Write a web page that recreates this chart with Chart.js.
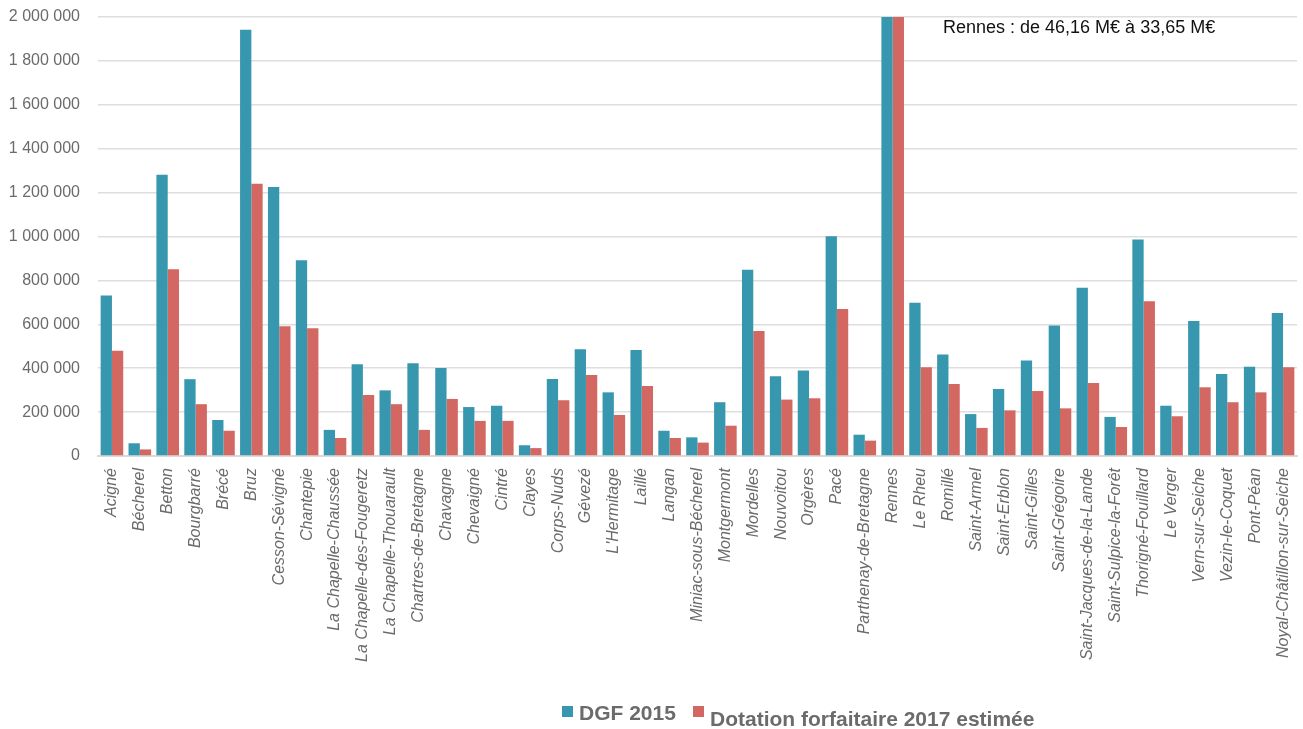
<!DOCTYPE html>
<html>
<head>
<meta charset="utf-8">
<script src="https://cdn.jsdelivr.net/npm/chart.js@4/dist/chart.umd.min.js"></script>
<style>
  html, body { margin: 0; padding: 0; background: #fff; }
  #wrap { width: 1303px; height: 729px; }
</style>
</head>
<body>
<div id="wrap"><canvas id="myChart"></canvas></div>
<script>
const communes = [
    'Acigné', 'Bécherel', 'Betton', 'Bourgbarré', 'Brécé', 'Bruz', 'Cesson-Sévigné',
    'Chantepie', 'La Chapelle-Chaussée', 'La Chapelle-des-Fougeretz', 'La Chapelle-Thouarault',
    'Chartres-de-Bretagne', 'Chavagne', 'Chevaigné', 'Cintré', 'Clayes', 'Corps-Nuds',
    'Gévezé', "L'Hermitage", 'Laillé', 'Langan', 'Miniac-sous-Bécherel', 'Montgermont',
    'Mordelles', 'Nouvoitou', 'Orgères', 'Pacé', 'Parthenay-de-Bretagne', 'Rennes',
    'Le Rheu', 'Romillé', 'Saint-Armel', 'Saint-Erblon', 'Saint-Gilles', 'Saint-Grégoire',
    'Saint-Jacques-de-la-Lande', 'Saint-Sulpice-la-Forêt', 'Thorigné-Fouillard', 'Le Verger',
    'Vern-sur-Seiche', 'Vezin-le-Coquet', 'Pont-Péan', 'Noyal-Châtillon-sur-Seiche'
];

// DGF 2015, en euros
const dgf2015 = [
    731000, 58000, 1281000, 350000, 164000, 1942000, 1225000,
    892000, 119000, 418000, 299000,
    423000, 401000, 223000, 229000, 49000, 351000,
    486000, 290000, 483000, 115000, 85000, 245000,
    848000, 363000, 389000, 1001000, 97000, 46160000,
    698000, 462000, 191000, 305000, 435000, 594000,
    766000, 178000, 986000, 229000,
    615000, 374000, 407000, 652000
];

// dotation forfaitaire 2017 estimée, en euros
const dotation2017 = [
    480000, 30000, 851000, 236000, 115000, 1240000, 591000,
    582000, 82000, 278000, 236000,
    119000, 260000, 160000, 160000, 36000, 254000,
    369000, 187000, 319000, 82000, 61000, 138000,
    570000, 257000, 263000, 670000, 70000, 33650000,
    404000, 328000, 128000, 208000, 296000, 217000,
    333000, 132000, 705000, 181000,
    313000, 245000, 290000, 404000
];

const yMax = 2000000;
const yStep = 200000;
const note = 'Rennes : de 46,16 M€ à 33,65 M€';

const blue = '#3797ae';
const red = '#d36762';
const grey = '#6b6b6b';
const fontFamily = '"Liberation Sans", Arial, sans-serif';

function formatFr(v) {
    return String(v).replace(/\B(?=(\d{3})+(?!\d))/g, ' ');
}

// note sur Rennes en haut à droite
const notePlugin = {
    id: 'note',
    afterDraw(chart) {
        const ctx = chart.ctx;
        const area = chart.chartArea;
        ctx.save();
        ctx.font = '18px ' + fontFamily;
        ctx.fillStyle = '#111';
        ctx.textBaseline = 'top';
        ctx.fillText(note, area.left + 845, area.top + 2);
        ctx.restore();
    }
};

// légende dessinée à la main sous le graphique
const legendPlugin = {
    id: 'bottomLegend',
    afterDraw(chart) {
        const ctx = chart.ctx;
        const sets = chart.data.datasets;
        const items = [
            { x: 562, box: 706, base: 720 },
            { x: 693, box: 706, base: 726 }
        ];
        ctx.save();
        ctx.font = 'bold 21px ' + fontFamily;
        ctx.textBaseline = 'alphabetic';
        sets.forEach((ds, i) => {
            const it = items[i];
            ctx.fillStyle = ds.backgroundColor;
            ctx.fillRect(it.x, it.box, 11, 11);
            ctx.fillStyle = grey;
            ctx.fillText(ds.label, it.x + 17, it.base);
        });
        ctx.restore();
    }
};

const data = {
    labels: communes,
    datasets: [{
        label: 'DGF 2015',
        backgroundColor: blue,
        data: dgf2015
    }, {
        label: 'Dotation forfaitaire 2017 estimée',
        backgroundColor: red,
        data: dotation2017
    }]
};

const config = {
    type: 'bar',
    data: data,
    options: {
        responsive: true,
        maintainAspectRatio: false,
        animation: false,
        datasets: {
            bar: { categoryPercentage: 0.81, barPercentage: 1.0 }
        },
        layout: { padding: { left: 6, right: 0, top: 0, bottom: 66 } },
        scales: {
            x: {
                grid: { display: false, drawTicks: false },
                border: { color: '#d9d9d9', width: 2 },
                afterFit: s => {
                    s.height = 207;
                    s.paddingLeft = 0;
                    s.paddingRight = 6;
                },
                ticks: {
                    autoSkip: false,
                    maxRotation: 90,
                    minRotation: 90,
                    padding: 12,
                    color: grey,
                    font: { family: fontFamily, size: 16, style: 'italic' }
                }
            },
            y: {
                min: 0,
                max: yMax,
                grid: { color: '#dedede', lineWidth: 1.5, drawTicks: false },
                border: { display: false },
                afterFit: s => {
                    s.width = 92;
                    s.paddingTop = 17;
                    s.paddingBottom = 0;
                },
                ticks: {
                    stepSize: yStep,
                    padding: 18,
                    color: grey,
                    font: { family: fontFamily, size: 16 },
                    callback: v => formatFr(v)
                }
            }
        },
        plugins: {
            tooltip: { enabled: false },
            legend: { display: false }
        }
    },
    plugins: [notePlugin, legendPlugin]
};

new Chart(
    document.getElementById('myChart'),
    config
);
</script>
</body>
</html>
